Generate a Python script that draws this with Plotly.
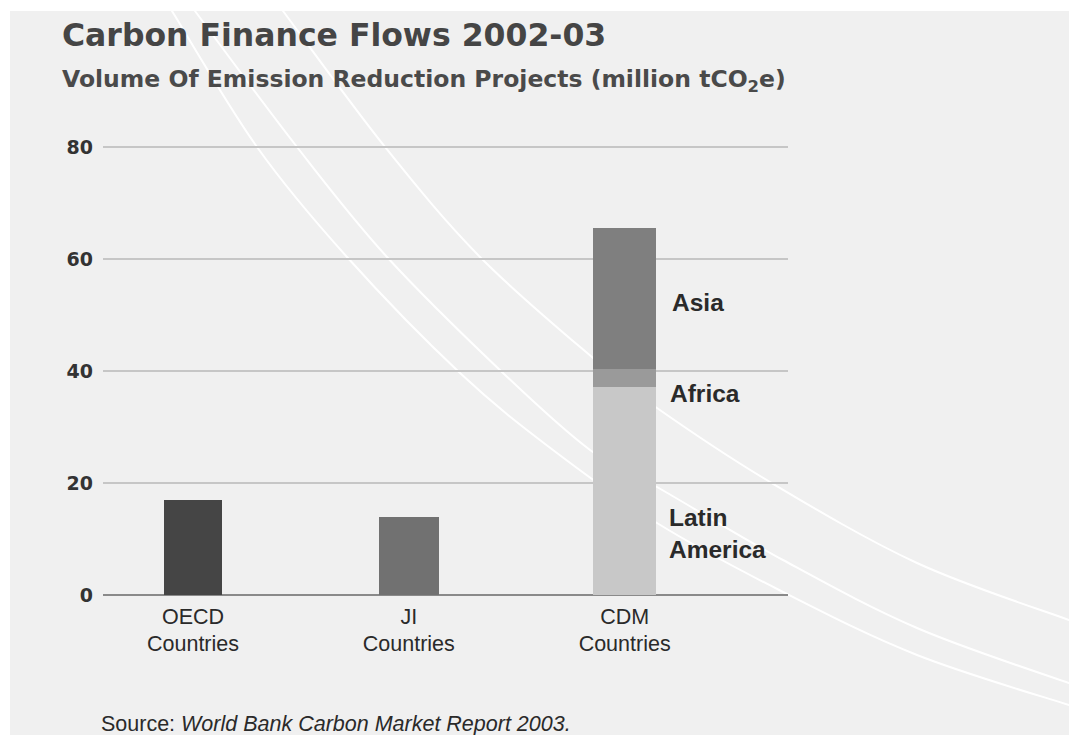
import plotly.graph_objects as go

# ---- data -------------------------------------------------------------
categories = ["OECD<br>Countries", "JI<br>Countries", "CDM<br>Countries"]
oecd_value = 17.0
ji_value = 14.0
cdm_regions = ["Latin<br>America", "Africa", "Asia"]
cdm_values = [37.2, 3.2, 25.2]
y_ticks = [0, 20, 40, 60, 80]

# ---- page geometry (pixels) --------------------------------------------
W, H = 1069, 735
ML, MR, MT, MB = 103, 281, 145, 140
PW, PH = W - ML - MR, H - MT - MB
Y_TOP = 80 * PH / 448  # axis top so that 80 sits 2px under the plot edge


def px(x):
    return (x - ML) / PW


def py(y):
    return (H - MB - y) / PH


def smooth_path(pts):
    """Catmull-Rom spline through pixel points, as an SVG path in paper units."""
    p = [pts[0]] + list(pts) + [pts[-1]]
    d = f"M {px(p[1][0]):.5f},{py(p[1][1]):.5f}"
    for i in range(1, len(p) - 2):
        p0, p1, p2, p3 = p[i - 1], p[i], p[i + 1], p[i + 2]
        c1 = (p1[0] + (p2[0] - p0[0]) / 6, p1[1] + (p2[1] - p0[1]) / 6)
        c2 = (p2[0] - (p3[0] - p1[0]) / 6, p2[1] - (p3[1] - p1[1]) / 6)
        d += (f" C {px(c1[0]):.5f},{py(c1[1]):.5f} {px(c2[0]):.5f},{py(c2[1]):.5f}"
              f" {px(p2[0]):.5f},{py(p2[1]):.5f}")
    return d


# decorative background arcs
arcs = [
    [(166, 0), (172, 11), (257, 147), (347, 257), (460, 373), (553, 450),
     (657, 523), (783, 592), (917, 655), (1069, 705), (1090, 710)],
    [(188, 0), (195, 11), (297, 147), (387, 257), (503, 373), (590, 450),
     (657, 487), (783, 560), (917, 628), (1069, 683), (1090, 688)],
    [(275, 0), (283, 11), (385, 147), (480, 257), (593, 358), (657, 408),
     (770, 482), (917, 563), (1069, 620), (1090, 626)],
]

fig = go.Figure()

fig.add_trace(go.Bar(x=[categories[0]], y=[oecd_value], marker_color="#454545",
                     marker_line_width=0, width=0.27, showlegend=False, hoverinfo="y"))
fig.add_trace(go.Bar(x=[categories[1]], y=[ji_value], marker_color="#717171",
                     marker_line_width=0, width=0.28, showlegend=False, hoverinfo="y"))
cdm_colors = ["#c8c8c8", "#9a9a9a", "#7f7f7f"]
for name, val, col in zip(cdm_regions, cdm_values, cdm_colors):
    fig.add_trace(go.Bar(x=[categories[2]], y=[val], marker_color=col,
                         marker_line_width=0, width=0.29, name=name.replace("<br>", " "),
                         showlegend=False, hoverinfo="name+y"))

shapes = [dict(type="rect", xref="paper", yref="paper",
               x0=px(10), x1=px(W + 5), y0=py(11), y1=py(H + 5),
               fillcolor="#f0f0f0", line_width=0, layer="below")]
for a in arcs:
    shapes.append(dict(type="path", xref="paper", yref="paper", path=smooth_path(a),
                       line=dict(color="white", width=2), layer="below"))

annotations = [
    dict(text="Carbon Finance Flows 2002-03", x=px(60), y=py(35), xanchor="left",
         yanchor="middle", font=dict(family="DejaVu Sans", size=31.5, color="#454545",
                                     weight="bold")),
    dict(text="Volume Of Emission Reduction Projects (million tCO<sub>2</sub>e)",
         x=px(60), y=py(80), xanchor="left", yanchor="middle",
         font=dict(family="DejaVu Sans", size=23.5, color="#4a4a4a", weight="bold")),
    dict(text="Asia", x=px(670), y=py(302), xanchor="left", yanchor="middle",
         font=dict(family="Liberation Sans", size=24.5, color="#2a2a2a", weight="bold")),
    dict(text="Africa", x=px(668), y=py(393), xanchor="left", yanchor="middle",
         font=dict(family="Liberation Sans", size=24.5, color="#2a2a2a", weight="bold")),
    dict(text="Latin<br>America", x=px(667), y=py(533), xanchor="left", yanchor="middle",
         align="left",
         font=dict(family="Liberation Sans", size=24.5, color="#2a2a2a", weight="bold")),
    dict(text="Source: <i>World Bank Carbon Market Report 2003.</i>", x=px(99), y=py(724),
         xanchor="left", yanchor="middle",
         font=dict(family="Liberation Sans", size=21.5, color="#2a2a2a")),
]
for a in annotations:
    a.update(xref="paper", yref="paper", showarrow=False)

fig.update_layout(
    width=W, height=H,
    margin=dict(l=ML, r=MR, t=MT, b=MB, pad=0),
    paper_bgcolor="white",
    plot_bgcolor="rgba(0,0,0,0)",
    barmode="stack",
    bargap=0.7,
    showlegend=False,
    shapes=shapes,
    annotations=annotations,
    xaxis=dict(
        range=[-0.417, 2.757], showgrid=False, zeroline=False, showline=False,
        ticks="", tickfont=dict(family="Liberation Sans", size=21.5, color="#2a2a2a"),
        ticklabelstandoff=6, fixedrange=True,
    ),
    yaxis=dict(
        range=[0, Y_TOP], tickvals=y_ticks, showgrid=True, gridcolor="#c6c6c6",
        gridwidth=1.5, zeroline=True, zerolinecolor="#8a8a8a", zerolinewidth=2,
        showline=False, ticks="", ticklabelstandoff=9,
        tickfont=dict(family="DejaVu Sans", size=19, color="#333333", weight="bold"),
        fixedrange=True,
    ),
)

fig.write_html("out.html")
